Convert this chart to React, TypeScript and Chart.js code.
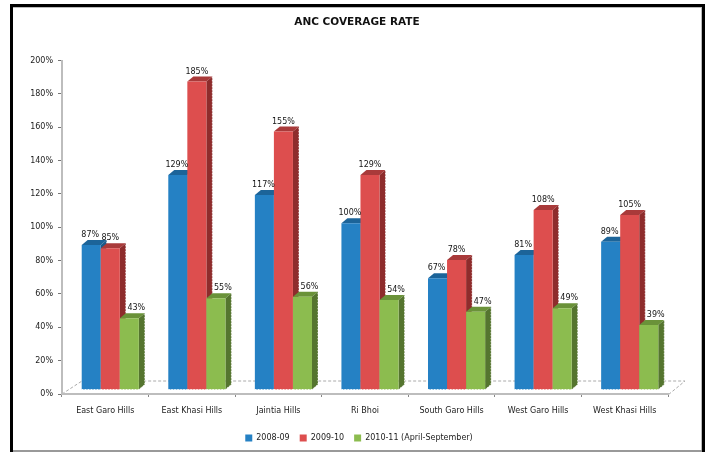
import React, { useEffect, useRef } from "react";
import { Chart, registerables } from "chart.js";

Chart.register(...registerables);

const districts = [
  "East Garo Hills",
  "East Khasi Hills",
  "Jaintia Hills",
  "Ri Bhoi",
  "South Garo Hills",
  "West Garo Hills",
  "West Khasi Hills",
];
const coverage200809 = [87, 129, 117, 100, 67, 81, 89];
const coverage200910 = [85, 185, 155, 129, 78, 108, 105];
const coverage201011 = [43, 55, 56, 54, 47, 49, 39];
const yTicks = [0, 20, 40, 60, 80, 100, 120, 140, 160, 180, 200];

const FONT = '"DejaVu Sans", sans-serif';
const DEPTH_X = 6;
const DEPTH_Y = 5;
const SHIFT_X = 5;
const SHIFT_Y = -4;
const LABEL_NUDGE = [-1, 0, 7];

const shades = [
  { top: "#1c6499", side: "#1a5a8a" },
  { top: "#a93a3a", side: "#8e2c2c" },
  { top: "#6a9239", side: "#55752f" },
];

// Title and legend sit centred on the plot rather than on the whole layout box.
const centreBlocks = {
  id: "centreBlocks",
  afterLayout(chart: any) {
    for (const [block, dx] of [[chart.legend, 15], [chart.titleBlock, 13]] as any) {
      block.left += dx;
      block.right += dx;
    }
  },
};

// Fake 3D columns: each series is painted left to right, with top and side
// faces first, then the bar elements, so a later series covers the earlier side.
const columns3d = {
  id: "columns3d",
  beforeDatasetsDraw(chart: any) {
    const { ctx } = chart;
    ctx.save();
    ctx.translate(SHIFT_X, SHIFT_Y);
    chart.data.datasets.forEach((_: any, i: number) => {
      const meta = chart.getDatasetMeta(i);
      const shade = shades[i];
      meta.data.forEach((bar: any) => {
        const left = bar.x - bar.width / 2;
        const right = bar.x + bar.width / 2;
        ctx.fillStyle = shade.top;
        ctx.beginPath();
        ctx.moveTo(left, bar.y);
        ctx.lineTo(left + DEPTH_X, bar.y - DEPTH_Y);
        ctx.lineTo(right + DEPTH_X, bar.y - DEPTH_Y);
        ctx.lineTo(right, bar.y);
        ctx.closePath();
        ctx.fill();
        ctx.fillStyle = shade.side;
        ctx.beginPath();
        ctx.moveTo(right, bar.y);
        ctx.lineTo(right + DEPTH_X, bar.y - DEPTH_Y);
        ctx.lineTo(right + DEPTH_X, bar.base - DEPTH_Y);
        ctx.lineTo(right, bar.base);
        ctx.closePath();
        ctx.fill();
      });
      meta.controller.draw();
      ctx.save();
      ctx.strokeStyle = "rgba(255,255,255,0.85)";
      ctx.lineWidth = 1;
      ctx.setLineDash([1.5, 1.5]);
      meta.data.forEach((bar: any) => {
        const left = bar.x - bar.width / 2;
        const right = bar.x + bar.width / 2;
        ctx.beginPath();
        ctx.moveTo(left, bar.base);
        ctx.lineTo(right, bar.base);
        ctx.lineTo(right + DEPTH_X, bar.base - DEPTH_Y);
        ctx.lineTo(right + DEPTH_X, bar.y - DEPTH_Y);
        ctx.stroke();
      });
      ctx.restore();
    });
    ctx.fillStyle = "#151515";
    ctx.font = `8px ${FONT}`;
    ctx.textAlign = "center";
    ctx.textBaseline = "bottom";
    chart.data.datasets.forEach((ds: any, i: number) => {
      chart.getDatasetMeta(i).data.forEach((bar: any, j: number) => {
        ctx.fillText(`${ds.data[j]}%`, bar.x + LABEL_NUDGE[i], bar.y - DEPTH_Y - 1);
      });
    });
    ctx.restore();
    return false;
  },
};

// Outer frame and the dashed floor of the plot.
const backdrop = {
  id: "backdrop",
  beforeDraw(chart: any) {
    const { ctx, chartArea: a } = chart;
    const { width, height } = chart;
    ctx.save();
    ctx.fillStyle = "#fff";
    ctx.fillRect(0, 0, width, height);
    ctx.fillStyle = "#000";
    ctx.fillRect(10, 4, 695, 3);
    ctx.fillRect(10, 4, 3, height - 4);
    ctx.fillRect(702, 4, 3, height - 4);
    ctx.fillStyle = "#bbb";
    ctx.fillRect(13, 7, 689, 1);
    ctx.fillRect(701, 7, 1, height - 8);
    ctx.fillStyle = "#999";
    ctx.fillRect(13, height - 2, 689, 2);
    ctx.strokeStyle = "#aaa";
    ctx.lineWidth = 1;
    ctx.setLineDash([3, 2]);
    ctx.beginPath();
    ctx.moveTo(a.left, a.bottom);
    ctx.lineTo(a.left + 20, a.bottom - 13);
    ctx.lineTo(a.right + 17, a.bottom - 13);
    ctx.lineTo(a.right, a.bottom + 1);
    ctx.stroke();
    ctx.restore();
  },
};

export default function App() {
  const ref = useRef<HTMLCanvasElement | null>(null);

  useEffect(() => {
    const chart = new Chart(ref.current!, {
      type: "bar",
      data: {
        labels: districts,
        datasets: [
          { label: "2008-09", data: coverage200809, backgroundColor: "#2581c4" },
          { label: "2009-10", data: coverage200910, backgroundColor: "#dd4e4e" },
          { label: "2010-11 (April-September)", data: coverage201011, backgroundColor: "#8cbc4f" },
        ] as any,
      },
      options: {
        animation: false,
        responsive: false,
        devicePixelRatio: 1,
        layout: { padding: { left: 20, right: 41, top: 0, bottom: 0 } },
        datasets: { bar: { barPercentage: 1, categoryPercentage: 0.66 } },
        plugins: {
          tooltip: { enabled: false },
          title: {
            display: true,
            text: "ANC COVERAGE RATE",
            color: "#111",
            font: { family: FONT, size: 10.5, weight: "bold" },
            padding: { top: 16, bottom: 32 },
          },
          legend: {
            position: "bottom",
            labels: {
              color: "#222",
              font: { family: FONT, size: 8 },
              boxWidth: 7,
              boxHeight: 7,
              padding: 10,
            },
          },
        },
        scales: {
          x: {
            afterFit: (s: any) => { s.height = 30; },
            border: { color: "#bdbdbd", width: 2 },
            grid: { drawOnChartArea: false, color: "#888", tickLength: 3 },
            ticks: { color: "#222", font: { family: FONT, size: 8 }, padding: 9, maxRotation: 0, autoSkip: false },
          },
          y: {
            min: 0,
            max: 200,
            afterFit: (s: any) => { s.width = 42; },
            afterBuildTicks: (s: any) => { s.ticks = yTicks.map((value) => ({ value })); },
            border: { color: "#bdbdbd", width: 2 },
            grid: { drawOnChartArea: false, color: "#777", tickLength: 4 },
            ticks: {
              color: "#222",
              font: { family: FONT, size: 8 },
              padding: 5,
              callback: (v: any) => `${v}%`,
            },
          },
        },
      },
      plugins: [centreBlocks, backdrop, columns3d],
    } as any);
    return () => chart.destroy();
  }, []);

  return (
    <div style={{ position: "fixed", left: 0, top: 0 }}>
      <canvas ref={ref} width={709} height={452} style={{ display: "block" }} />
    </div>
  );
}
